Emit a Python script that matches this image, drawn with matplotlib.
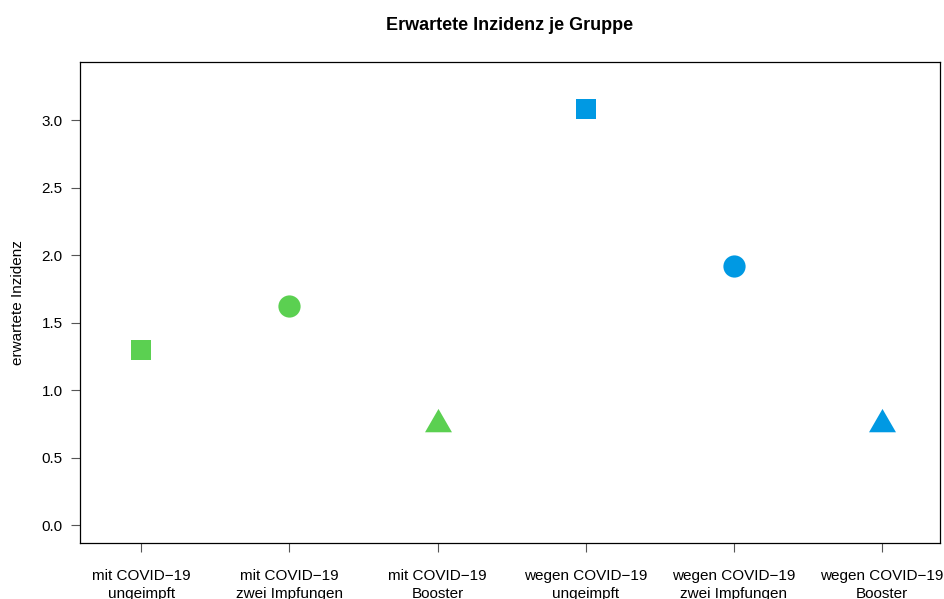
import matplotlib
matplotlib.use("Agg")
import matplotlib.pyplot as plt
from matplotlib.path import Path

categories = ["mit COVID\u221219\nungeimpft", "mit COVID\u221219\nzwei Impfungen", "mit COVID\u221219\nBooster",
              "wegen COVID\u221219\nungeimpft", "wegen COVID\u221219\nzwei Impfungen", "wegen COVID\u221219\nBooster"]
values = [1.30, 1.62, 0.75, 3.08, 1.92, 0.75]
colors = ["#5BD051", "#5BD051", "#5BD051", "#0099E3", "#0099E3", "#0099E3"]
shapes = ["square", "circle", "triangle", "square", "circle", "triangle"]
yticks = [0.0, 0.5, 1.0, 1.5, 2.0, 2.5, 3.0]

plt.rcParams['font.family'] = ['Liberation Sans', 'DejaVu Sans']

fig = plt.figure(figsize=(9.44, 5.99), dpi=100)
ax = fig.add_axes([80/944, 56/599, 860/944, 481/599])

tri = Path([(0, 1.5551), (1.3468, -0.7776), (-1.3468, -0.7776), (0, 1.5551)],
           [Path.MOVETO, Path.LINETO, Path.LINETO, Path.CLOSEPOLY])
mk = {"square": ("s", 15.1), "circle": ("o", 16.0), "triangle": (tri, 22.4)}

for i, (v, c, s) in enumerate(zip(values, colors, shapes)):
    m, ms = mk[s]
    ax.plot([i + 1], [v], marker=m, markersize=ms, color=c, markeredgewidth=0, linestyle='none')

ax.set_xlim(0.588, 6.39)
ax.set_ylim(-0.133, 3.43)
ax.set_xticks(range(1, 7))
ax.set_xticklabels(categories, fontsize=11, linespacing=1.4)
ax.set_yticks(yticks)
ax.set_yticklabels([f"{t:.1f}" for t in yticks], fontsize=11)
ax.tick_params(axis='both', length=6.5, width=0.8, color='#555555', pad=6)
ax.tick_params(axis='x', pad=12)
for sp in ax.spines.values():
    sp.set_linewidth(0.9)
ax.set_ylabel("erwartete Inzidenz", fontsize=11, labelpad=12)
ax.set_title("Erwartete Inzidenz je Gruppe", fontsize=13, fontweight='bold', pad=23)

fig.savefig("out.png", dpi=100)
